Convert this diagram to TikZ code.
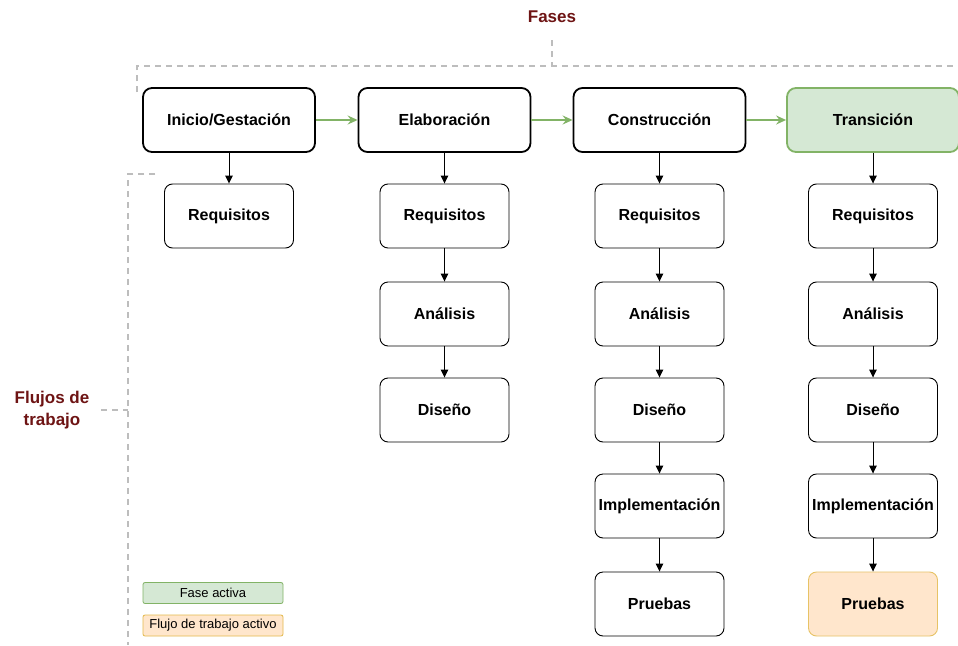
\documentclass[tikz,border=0pt]{standalone}
\usepackage{fontspec}
\setmainfont{Liberation Sans}
\usetikzlibrary{arrows.meta}
\definecolor{gfill}{HTML}{D5E8D4}
\definecolor{gline}{HTML}{82B366}
\definecolor{ofill}{HTML}{FFE6CC}
\definecolor{oline}{HTML}{D79B00}
\definecolor{maroon}{HTML}{6E1414}
\definecolor{dgray}{HTML}{BDBDBD}
\tikzset{
  phase/.style={draw=black, line width=1.8pt, rounded corners=9pt, minimum width=172pt, minimum height=64pt, font=\fontsize{16}{19}\selectfont\bfseries, fill=white},
  sub/.style={draw=black, line width=0.9pt, rounded corners=8pt, minimum width=129pt, minimum height=64pt, font=\fontsize{16}{19}\selectfont\bfseries, fill=white, inner sep=1pt},
  legendbox/.style={line width=0.8pt, rounded corners=2pt, minimum width=140pt, minimum height=21pt, font=\fontsize{13}{15}\selectfont, inner sep=1pt},
  title/.style={text=maroon, font=\fontsize{17}{21.5}\selectfont\bfseries, align=center},
  blk/.style={-{Triangle[length=8pt,width=7.5pt]}, line width=0.9pt, black},
  grn/.style={-{Stealth[length=10pt,width=9pt,inset=3.5pt]}, line width=1.8pt, gline},
  dsh/.style={dgray, line width=1.2pt, dash pattern=on 6pt off 5pt}
}
\begin{document}
\begin{tikzpicture}[x=1pt,y=-1pt]
\useasboundingbox (0,0) rectangle (958,645);
\fill[white] (0,0) rectangle (958,645);

% titles
\node[title] (fases) at (552,17) {Fases};
\node[title] (flujos) at (52,410) {Flujos de\\trabajo};

% dashed guides
\coordinate (fb) at (552,40);
\coordinate (fj) at (552,66);
\coordinate (tl) at (137,66);
\coordinate (tr) at (958,66);
\coordinate (tld) at (137,92);
\draw[dsh] (fb) -- (fj);
\draw[dsh] (tld) -- (tl) -- (tr);
\coordinate (lt) at (155,174);
\coordinate (lc) at (128,174);
\coordinate (lb) at (128,645);
\coordinate (lm) at (128,410);
\coordinate (lfl) at (101,410);
\draw[dsh] (lt) -- (lc) -- (lb);
\draw[dsh] (lfl) -- (lm);

% phases
\node[phase] (p1) at (229,120) {Inicio/Gestación};
\node[phase] (p2) at (444.5,120) {Elaboración};
\node[phase] (p3) at (659.5,120) {Construcción};
\node[phase, draw=gline, fill=gfill] (p4) at (873,120) {Transición};
\draw[grn] (p1) -- (p2);
\draw[grn] (p2) -- (p3);
\draw[grn] (p3) -- (p4);

% column 1
\node[sub] (r1) at (229,216) {Requisitos};
\draw[blk] (p1) -- (r1);

% column 2
\node[sub] (r2) at (444.5,216) {Requisitos};
\node[sub] (a2) at (444.5,314) {Análisis};
\node[sub] (d2) at (444.5,410) {Diseño};
\draw[blk] (p2) -- (r2);
\draw[blk] (r2) -- (a2);
\draw[blk] (a2) -- (d2);

% column 3
\node[sub] (r3) at (659.5,216) {Requisitos};
\node[sub] (a3) at (659.5,314) {Análisis};
\node[sub] (d3) at (659.5,410) {Diseño};
\node[sub] (i3) at (659.5,506) {Implementación};
\node[sub] (u3) at (659.5,604) {Pruebas};
\draw[blk] (p3) -- (r3);
\draw[blk] (r3) -- (a3);
\draw[blk] (a3) -- (d3);
\draw[blk] (d3) -- (i3);
\draw[blk] (i3) -- (u3);

% column 4
\node[sub] (r4) at (873,216) {Requisitos};
\node[sub] (a4) at (873,314) {Análisis};
\node[sub] (d4) at (873,410) {Diseño};
\node[sub] (i4) at (873,506) {Implementación};
\node[sub, draw=oline!60, fill=ofill] (u4) at (873,604) {Pruebas};
\draw[blk] (p4) -- (r4);
\draw[blk] (r4) -- (a4);
\draw[blk] (a4) -- (d4);
\draw[blk] (d4) -- (i4);
\draw[blk] (i4) -- (u4);

% legend
\node[legendbox, draw=gline, fill=gfill] (lg1) at (213,593) {Fase activa};
\node[legendbox, draw=oline!70, fill=ofill] (lg2) at (213,625.5) {Flujo de trabajo activo};
\end{tikzpicture}
\end{document}
